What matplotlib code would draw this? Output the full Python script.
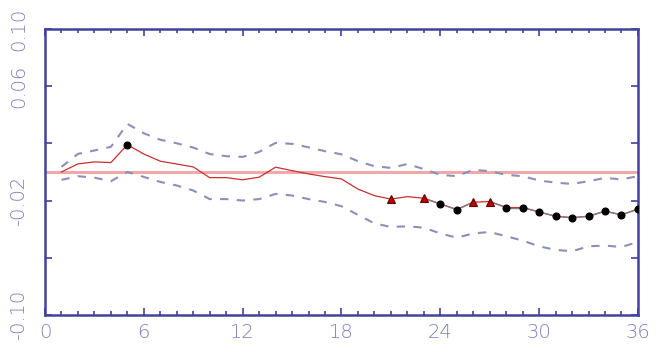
import matplotlib
matplotlib.use("Agg")
from matplotlib import pyplot as plt
from matplotlib.ticker import MultipleLocator
import numpy as np

# horizon (months) and response with its confidence band
months = np.arange(1, 37)
response = [0.0, 0.0056, 0.0070, 0.0065, 0.0190, 0.0125, 0.0075, 0.0055, 0.0035, -0.0040,
            -0.0040, -0.0055, -0.0037, 0.0033, 0.0009, -0.0014, -0.0033, -0.0049, -0.0120, -0.0166,
            -0.0190, -0.0173, -0.0184, -0.0224, -0.0263, -0.0212, -0.0207, -0.0249, -0.0249, -0.0280,
            -0.0310, -0.0320, -0.0310, -0.0275, -0.0300, -0.0260]
upper = [0.0035, 0.0126, 0.0150, 0.0175, 0.0336, 0.0270, 0.0225, 0.0200, 0.0170, 0.0125,
         0.0110, 0.0105, 0.0140, 0.0203, 0.0196, 0.0172, 0.0145, 0.0123, 0.0075, 0.0040,
         0.0028, 0.0055, 0.0020, -0.0020, -0.0030, 0.0015, 0.0005, -0.0020, -0.0030, -0.0060,
         -0.0075, -0.0084, -0.0065, -0.0042, -0.0052, -0.0030]
lower = [-0.0056, -0.0030, -0.0040, -0.0065, 0.0000, -0.0035, -0.0070, -0.0095, -0.0130, -0.0190,
         -0.0190, -0.0200, -0.0190, -0.0154, -0.0165, -0.0190, -0.0210, -0.0240, -0.0300, -0.0360,
         -0.0385, -0.0380, -0.0390, -0.0430, -0.0460, -0.0430, -0.0420, -0.0450, -0.0480, -0.0520,
         -0.0545, -0.0555, -0.0520, -0.0515, -0.0525, -0.0490]
# significance markers: 'o' black dot, '^' red triangle
dot_months = [5, 24, 25, 28, 29, 30, 31, 32, 33, 34, 35, 36]
tri_months = [21, 23, 26, 27]

axis_col = '#42429e'
label_col = '#7e7ebe'
band_col = '#8c90b4'

fig = plt.figure(figsize=(6.57, 3.48), dpi=100)
ax = fig.add_axes([0.0685, 0.095, 0.9025, 0.822])

ax.axhline(0, color='#f0a8a8', lw=2.2, zorder=1)
ax.plot(months, upper, color=band_col, lw=1.5, dashes=(4, 4), zorder=2)
ax.plot(months, lower, color=band_col, lw=1.5, dashes=(4, 4), zorder=2)
ax.plot(months, response, color='#c83030', lw=0.9, zorder=3)

# grey segments between neighbouring significant points
resp = dict(zip(months, response))
marked = set(dot_months) | set(tri_months)
for m in months[:-1]:
    if m in marked and m + 1 in marked and (m in dot_months or m + 1 in dot_months):
        ax.plot([m, m + 1], [resp[m], resp[m + 1]], color='#8a7a7a', lw=1.0, zorder=4)

ax.plot(dot_months, [resp[m] for m in dot_months], 'o', color='black', ms=4.8, zorder=5)
ax.plot(tri_months, [resp[m] for m in tri_months], '^', mfc='#c00000', mec='#600000',
        mew=0.8, ms=6, zorder=5)

ax.set_xlim(0, 36)
ax.set_ylim(-0.10, 0.10)
ax.xaxis.set_major_locator(MultipleLocator(6))
ax.xaxis.set_minor_locator(MultipleLocator(1))
ax.set_yticks([-0.10, -0.06, -0.02, 0.02, 0.06, 0.10])
ax.set_yticklabels(['-0.10', '', '-0.02', '', '0.06', '0.10'], rotation=90, va='center')

ax.tick_params(which='both', direction='in', colors=axis_col, labelcolor=label_col,
               top=True, right=True, labelsize=14, width=1.2)
ax.tick_params(which='major', length=5)
ax.tick_params(which='minor', length=3)
ax.tick_params(axis='y', pad=12)
ax.tick_params(axis='x', pad=6)
for lbl in ax.get_xticklabels() + ax.get_yticklabels():
    lbl.set_fontweight('light')
for s in ax.spines.values():
    s.set_color(axis_col)
    s.set_linewidth(1.8)

fig.savefig('out.png', dpi=100)
